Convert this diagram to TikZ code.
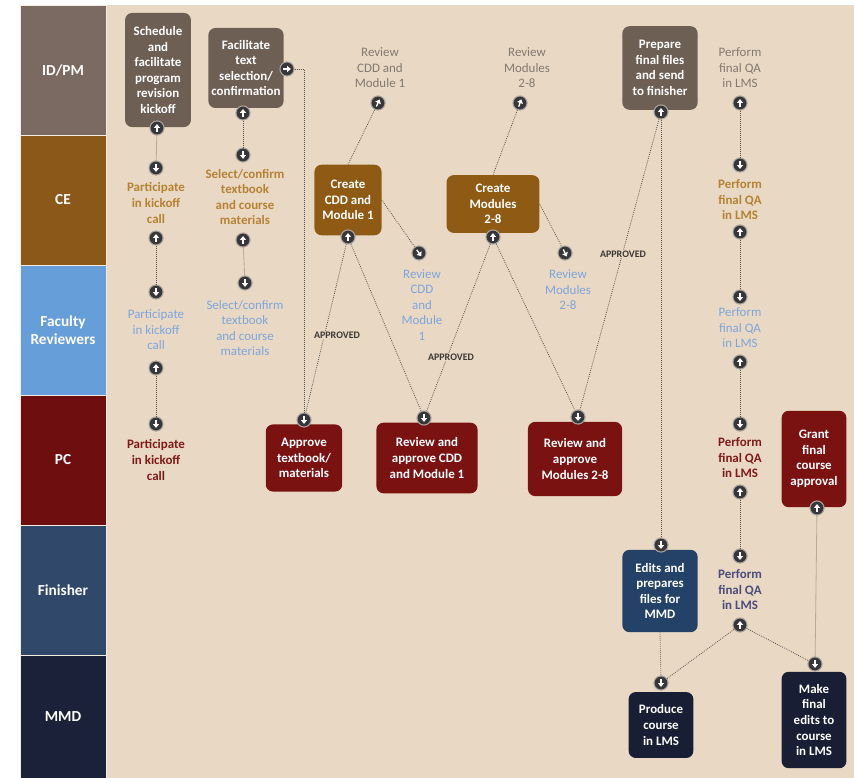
\documentclass[tikz,border=0pt]{standalone}
\usepackage{fontspec}
\setmainfont{Carlito}
\usepackage{xcolor}
\usetikzlibrary{arrows.meta}

\definecolor{bgbeige}{HTML}{E9D9C4}
\definecolor{idpm}{HTML}{7A6A61}
\definecolor{idpmbox}{HTML}{6E5F55}
\definecolor{ce}{HTML}{8C5819}
\definecolor{cebox}{HTML}{8E5A14}
\definecolor{fac}{HTML}{669EDA}
\definecolor{pc}{HTML}{6E0E0E}
\definecolor{pcbox}{HTML}{7A1212}
\definecolor{fin}{HTML}{30486A}
\definecolor{finbox}{HTML}{244268}
\definecolor{mmd}{HTML}{1B2138}
\definecolor{mmdbox}{HTML}{181E34}
\definecolor{grayt}{HTML}{827870}
\definecolor{oranget}{HTML}{B48232}
\definecolor{bluet}{HTML}{7DA5DC}
\definecolor{redt}{HTML}{7D1919}
\definecolor{navyt}{HTML}{4B4B7D}
\definecolor{portgray}{HTML}{37373A}
\definecolor{portring}{HTML}{AAA5A0}
\definecolor{linegray}{HTML}{5A5550}
\definecolor{aptext}{HTML}{3C3732}

\newcommand{\port}[3]{%
  \node[port] (#1) at (#2) {};
  \draw[portarrow] ([shift={(#3+180:3.3pt)}]#1.center) -- ([shift={(#3:3.3pt)}]#1.center);}

\begin{document}
\begin{tikzpicture}[
        x=0.85pt, y=-0.85pt,
        lane/.style={text=white, font=\bfseries\fontsize{13}{15}\selectfont, align=center,
            minimum width=73pt, minimum height=110.5pt, inner sep=0pt,
            draw=bgbeige!50!white, line width=0.6pt},
        box/.style={rounded corners=6pt, text=white, font=\bfseries\fontsize{11}{13.2}\selectfont,
            align=center, inner sep=2pt},
        freetext/.style={font=\fontsize{11}{13.2}\selectfont, align=center, inner sep=1pt},
        freebold/.style={freetext, font=\bfseries\fontsize{11}{13.2}\selectfont},
        port/.style={circle, fill=portgray, draw=portring, line width=0.9pt,
            minimum size=12pt, inner sep=0pt},
        portarrow/.style={white, line width=1.1pt, -{Triangle[width=5pt,length=3.2pt]}},
        flow/.style={densely dotted, line width=0.7pt, draw=linegray},
        approved/.style={font=\bfseries\fontsize{8.5}{9}\selectfont, text=aptext,
            fill=bgbeige, inner sep=1pt}
    ]
        \useasboundingbox (0,0) rectangle (854,778);
        \fill[white] (0,0) rectangle (854,778);
        \fill[bgbeige] (106,5) rectangle (854,778);

        \node[lane, fill=idpm] (lIdpm) at (63,70) {ID/PM};
        \node[lane, fill=ce] (lCe) at (63,200) {CE};
        \node[lane, fill=fac] (lFac) at (63,330) {Faculty\\Reviewers};
        \node[lane, fill=pc] (lPc) at (63,460) {PC};
        \node[lane, fill=fin] (lFin) at (63,590) {Finisher};
        \node[lane, fill=mmd, minimum height=104.5pt] (lMmd) at (63,716.5) {MMD};

        \node[box, fill=idpmbox, minimum width=56pt, minimum height=97pt] (sched) at (158,70) {Schedule\\and\\facilitate\\program\\revision\\kickoff};
        \node[box, fill=idpmbox, minimum width=64pt, minimum height=68pt] (facil) at (246,68) {Facilitate\\text\\selection/\\confirmation};
        \node[box, fill=idpmbox, minimum width=64pt, minimum height=71pt] (prep) at (660,68) {Prepare\\final files\\and send\\to finisher};
        \node[box, fill=cebox, minimum width=57pt, minimum height=60pt] (ccdd) at (348,200) {Create\\CDD and\\Module 1};
        \node[box, fill=cebox, minimum width=79pt, minimum height=49pt] (cmod) at (493,204) {Create\\Modules\\2-8};
        \node[box, fill=pcbox, minimum width=65pt, minimum height=57pt] (atb) at (304,458) {Approve\\textbook/\\materials};
        \node[box, fill=pcbox, minimum width=86pt, minimum height=60pt] (rac) at (427,458) {Review and\\approve CDD\\and\ Module 1};
        \node[box, fill=pcbox, minimum width=80pt, minimum height=63pt] (ram) at (575,459) {Review and\\approve\\Modules 2-8};
        \node[box, fill=pcbox, minimum width=55pt, minimum height=82pt] (grant) at (814,459) {Grant\\final\\course\\approval};
        \node[box, fill=finbox, minimum width=64pt, minimum height=70pt] (edits) at (660,591) {Edits and\\prepares\\files for\\MMD};
        \node[box, fill=mmdbox, minimum width=55pt, minimum height=56pt] (prod) at (661,725) {Produce\\course\\in LMS};
        \node[box, fill=mmdbox, minimum width=55pt, minimum height=82pt] (make) at (814,720) {Make\\final\\edits to\\course\\in LMS};

        \node[freetext, text=grayt] (tRevA) at (380,68) {Review\\CDD and\\Module 1};
        \node[freetext, text=grayt] (tRevB) at (527,68) {Review\\Modules\\2-8};
        \node[freetext, text=grayt] (tQa1) at (740,68) {Perform\\final QA\\in LMS};
        \node[freebold, text=oranget] (tCeA) at (156,203) {Participate\\in kickoff\\call};
        \node[freebold, text=oranget] (tCeB) at (245,197) {Select/confirm\\textbook\\and course\\materials};
        \node[freebold, text=oranget] (tQa2) at (740,200) {Perform\\final QA\\in LMS};
        \node[freetext, text=bluet] (tFrA) at (156,330) {Participate\\in kickoff\\call};
        \node[freetext, text=bluet] (tFrB) at (245,328) {Select/confirm\\textbook\\and course\\materials};
        \node[freetext, text=bluet] (tFrC) at (422,305) {Review\\CDD\\and\\Module\\1};
        \node[freetext, text=bluet] (tFrD) at (568,290) {Review\\Modules\\2-8};
        \node[freetext, text=bluet] (tQa3) at (740,328) {Perform\\final QA\\in LMS};
        \node[freebold, text=redt] (tPcA) at (156,460) {Participate\\in kickoff\\call};
        \node[freebold, text=redt] (tQa4) at (740,458) {Perform\\final QA\\in LMS};
        \node[freebold, text=navyt] (tQa5) at (740,590) {Perform\\final QA\\in LMS};

        \port{pSched}{157,128}{90}
        \port{pFacB}{243,113}{90}
        \port{pFacR}{287,69}{0}
        \port{pRevA}{378,103}{65}
        \port{pRevB}{520,103}{70}
        \port{pPrep}{661,112}{90}
        \port{pQa1}{740,103}{90}
        \port{pCeA1}{156,168}{-90}
        \port{pCeA2}{156,238}{90}
        \port{pCeB1}{243,155}{-90}
        \port{pCeB2}{243,240}{90}
        \port{pCdd}{348,237}{90}
        \port{pMod}{493,237}{90}
        \port{pQa2a}{740,165}{-90}
        \port{pQa2b}{740,232}{90}
        \port{pFrA1}{156,292}{-90}
        \port{pFrA2}{156,368}{90}
        \port{pFrB1}{245,283}{-90}
        \port{pFrC}{419,253}{-54}
        \port{pFrD}{565,253}{-64}
        \port{pQa3a}{740,297}{-90}
        \port{pQa3b}{740,362}{90}
        \port{pPcA}{156,424}{-90}
        \port{pAtb}{304,420}{-90}
        \port{pRac}{424,418}{-90}
        \port{pRam}{578,417}{-90}
        \port{pQa4a}{740,424}{-90}
        \port{pQa4b}{740,492}{90}
        \port{pGrant}{817,508}{90}
        \port{pEdits}{661,545}{-90}
        \port{pQa5a}{740,556}{-90}
        \port{pQa5b}{740,625}{90}
        \port{pProd}{661,683}{-90}
        \port{pMake}{815,664}{-90}

        \draw[flow] (pSched) -- (pCeA1);
        \draw[flow] (pCeA2) -- (pFrA1);
        \draw[flow] (pFrA2) -- (pPcA);
        \draw[flow] (pFacB) -- (pCeB1);
        \draw[flow] (pCeB2) -- (pFrB1);
        \draw[flow] (pFacR) -| (pAtb);
        \draw[flow] (pRevA) -- (ccdd.north);
        \draw[flow] (ccdd.east) -- (pFrC);
        \draw[flow] (pCdd) -- (pAtb);
        \draw[flow] (pCdd) -- (pRac);
        \draw[flow] (pRevB) -- (cmod.north);
        \draw[flow] (cmod.east) -- (pFrD);
        \draw[flow] (pMod) -- (pRac);
        \draw[flow] (pMod) -- (pRam);
        \draw[flow] (pPrep) -- (pRam);
        \draw[flow] (pPrep) -- (pEdits);
        \draw[flow] (pQa1) -- (pQa2a);
        \draw[flow] (pQa2b) -- (pQa3a);
        \draw[flow] (pQa3b) -- (pQa4a);
        \draw[flow] (pQa4b) -- (pQa5a);
        \draw[flow] (pGrant) -- (pMake);
        \draw[flow] (edits.south) -- (pProd);
        \draw[flow] (pQa5b) -- (pProd);
        \draw[flow] (pQa5b) -- (pMake);

        \node[approved] (ap1) at (337,335) {APPROVED};
        \node[approved] (ap2) at (451,357) {APPROVED};
        \node[approved] (ap3) at (623,254) {APPROVED};
\end{tikzpicture}
\end{document}
